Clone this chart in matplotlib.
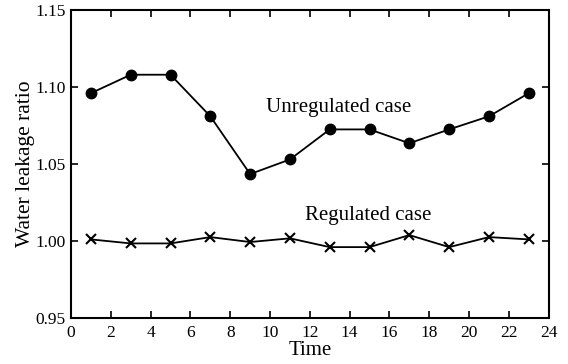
import matplotlib
matplotlib.use("Agg")
import matplotlib.pyplot as plt

time = [1, 3, 5, 7, 9, 11, 13, 15, 17, 19, 21, 23]
unregulated = [1.096, 1.108, 1.108, 1.081, 1.0435, 1.053, 1.0725, 1.0725, 1.0635, 1.0725, 1.081, 1.096]
regulated = [1.0011, 0.9985, 0.9985, 1.0026, 0.9994, 1.0018, 0.9961, 0.9961, 1.0039, 0.9961, 1.0026, 1.0011]
xticks = list(range(0, 25, 2))
yticks = [0.95, 1.00, 1.05, 1.10, 1.15]

plt.rcParams['font.family'] = ['Liberation Serif', 'DejaVu Serif']
fig = plt.figure(figsize=(5.68, 3.64), dpi=100)
ax = fig.add_axes([0.125, 0.126, 0.841, 0.8465])
ax.plot(time, unregulated, '-o', color='black', lw=1.3, ms=7.5)
ax.plot(time, regulated, '-x', color='black', lw=1.3, ms=7.5, mew=1.5)
ax.set_xlim(0, 24)
ax.set_ylim(0.95, 1.15)
ax.set_xticks(xticks)
ax.set_yticks(yticks)
ax.set_yticklabels([f"{v:.2f}" for v in yticks])
ax.tick_params(direction='in', top=True, right=True, labelsize=12.5, length=5, width=1.2)
ax.tick_params(axis='x', pad=5)
ax.tick_params(axis='y', pad=4)
for s in ax.spines.values():
    s.set_linewidth(1.5)
ax.set_xlabel('Time', fontsize=15, labelpad=0)
ax.set_ylabel('Water leakage ratio', fontsize=15.5, labelpad=0)
ax.text(13.45, 1.0864, 'Unregulated case', fontsize=15, ha='center', va='center')
ax.text(14.95, 1.0169, 'Regulated case', fontsize=15, ha='center', va='center')
fig.savefig('out.png', dpi=100)
